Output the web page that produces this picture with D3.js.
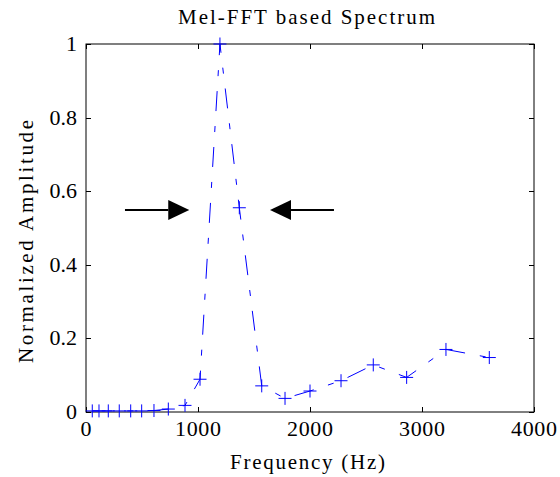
<!DOCTYPE html>
<html><head><meta charset="utf-8">
<script src="https://cdn.jsdelivr.net/npm/d3@7"></script>
<style>html,body{margin:0;padding:0;background:#fff;}svg{display:block;}</style>
</head><body>
<svg id="chart" width="560" height="477"></svg>
<script>
const freqs = [56, 116, 199, 297, 399, 497, 607, 735, 884, 1018, 1196, 1369, 1569, 1777, 2000, 2277, 2565, 2863, 3214, 3601];
const amps  = [0.003, 0.003, 0.003, 0.003, 0.003, 0.003, 0.004, 0.008, 0.018, 0.089, 1.0, 0.555, 0.071, 0.037, 0.057, 0.085, 0.128, 0.094, 0.170, 0.148];
const xTicks = [0, 1000, 2000, 3000, 4000];
const yTicks = [0, 0.2, 0.4, 0.6, 0.8, 1];
const yTickLabels = ["0", "0.2", "0.4", "0.6", "0.8", "1"];
const title = "Mel-FFT based Spectrum";
const xLabel = "Frequency (Hz)";
const yLabel = "Normalized Amplitude";
// annotation arrows: [tail freq, tip freq, amplitude]
const arrowLeft = [348, 922, 0.549];
const arrowRight = [2214, 1643, 0.549];

const svg = d3.select("#chart");
const L = 86, R = 534, T = 44, B = 412;
const x = d3.scaleLinear().domain([0, 4000]).range([L, R]);
const y = d3.scaleLinear().domain([0, 1]).range([B, T]);
const font = "'Liberation Serif','Times New Roman',serif";

// box
svg.append("rect").attr("x", L).attr("y", T).attr("width", R - L).attr("height", B - T)
  .attr("fill", "none").attr("stroke", "#000").attr("stroke-width", 1);

const tl = 5;
const g = svg.append("g").attr("stroke", "#000").attr("stroke-width", 1);
xTicks.forEach(t => {
  const px = Math.round(x(t)) + 0.5;
  g.append("line").attr("x1", px).attr("x2", px).attr("y1", B).attr("y2", B - tl);
  g.append("line").attr("x1", px).attr("x2", px).attr("y1", T).attr("y2", T + tl);
});
yTicks.forEach(t => {
  const py = Math.round(y(t)) + 0.5;
  g.append("line").attr("x1", L).attr("x2", L + tl).attr("y1", py).attr("y2", py);
  g.append("line").attr("x1", R).attr("x2", R - tl).attr("y1", py).attr("y2", py);
});

svg.append("g").selectAll("text").data(xTicks).join("text")
  .attr("x", d => x(d)).attr("y", 436).attr("text-anchor", "middle")
  .attr("font-family", font).attr("font-size", 22).attr("fill", "#000")
  .attr("textLength", d => String(d).length * 11.7 - 1).attr("lengthAdjust", "spacing")
  .text(d => String(d));

svg.append("g").selectAll("text").data(yTicks).join("text")
  .attr("x", 77).attr("y", d => y(d) + 7).attr("text-anchor", "end")
  .attr("font-family", font).attr("font-size", 22).attr("fill", "#000")
  .text((d, i) => yTickLabels[i]);

svg.append("text").attr("x", 306.5).attr("y", 24).attr("text-anchor", "middle")
  .attr("font-family", font).attr("font-size", 21).attr("fill", "#000")
  .attr("textLength", 257).attr("lengthAdjust", "spacing")
  .text(title);

svg.append("text").attr("x", 307.5).attr("y", 469).attr("text-anchor", "middle")
  .attr("font-family", font).attr("font-size", 21).attr("fill", "#000")
  .attr("textLength", 155).attr("lengthAdjust", "spacing")
  .text(xLabel);

svg.append("text").attr("transform", "translate(33,241.5) rotate(-90)").attr("text-anchor", "middle")
  .attr("font-family", font).attr("font-size", 21).attr("fill", "#000")
  .attr("textLength", 243).attr("lengthAdjust", "spacing")
  .text(yLabel);

// data line
const pts = freqs.map((f, i) => [f, amps[i]]);
const line = d3.line().x(d => x(d[0])).y(d => y(d[1]));
svg.append("path").datum(pts).attr("d", line).attr("fill", "none")
  .attr("stroke", "#0000ff").attr("stroke-width", 1)
  .attr("stroke-dasharray", "20,15,6,15");

const ms = 6.5;
const mk = svg.append("g").attr("stroke", "#0000ff").attr("stroke-width", 1);
pts.forEach(d => {
  const px = x(d[0]), py = y(d[1]);
  mk.append("line").attr("x1", px - ms).attr("x2", px + ms).attr("y1", py).attr("y2", py);
  mk.append("line").attr("x1", px).attr("x2", px).attr("y1", py - ms).attr("y2", py + ms);
});

// arrows
function arrow(a) {
  const tail = x(a[0]), tip = x(a[1]), py = y(a[2]);
  const dir = tip > tail ? 1 : -1;
  const headLen = 21, headH = 10;
  const base = tip - dir * headLen;
  svg.append("line").attr("x1", tail).attr("x2", base).attr("y1", py).attr("y2", py)
    .attr("stroke", "#000").attr("stroke-width", 2);
  svg.append("path").attr("d", `M${tip},${py}L${base},${py - headH}L${base},${py + headH}Z`)
    .attr("fill", "#000");
}
arrow(arrowLeft);
arrow(arrowRight);
</script>
</body></html>
